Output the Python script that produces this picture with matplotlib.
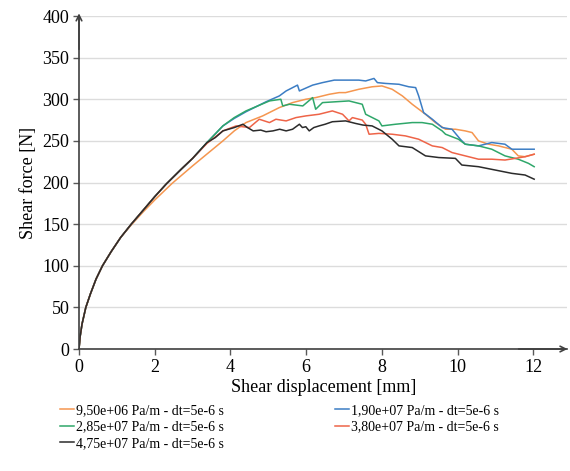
import matplotlib
matplotlib.use("Agg")
import matplotlib.pyplot as plt

plt.rcParams['font.family'] = ['Liberation Serif', 'DejaVu Serif']

# ---- data ----
labels = ["9,50e+06 Pa/m - dt=5e-6 s", "1,90e+07 Pa/m - dt=5e-6 s",
          "2,85e+07 Pa/m - dt=5e-6 s", "3,80e+07 Pa/m - dt=5e-6 s",
          "4,75e+07 Pa/m - dt=5e-6 s"]
colors = ["#F5964F", "#3C7DC4", "#2FA76A", "#EE6448", "#2B2B2B"]

base_x = [0, 0.03, 0.08, 0.18, 0.3, 0.45, 0.62, 0.85, 1.1, 1.38, 1.7, 2.0, 2.3, 2.7, 3.0]
base_y = [0, 15, 30, 50, 66, 84, 100, 117, 134, 150, 167, 183, 198, 216, 229]

s1_x = [0, 0.03, 0.08, 0.18, 0.3, 0.45, 0.62, 0.85, 1.1, 1.38, 1.7, 2.0, 2.46, 3.0, 3.4, 3.8,
        4.1, 4.41, 4.85, 5.29, 5.64, 5.99,
        6.25, 6.61, 6.87, 7.04, 7.39, 7.74, 8.0, 8.27, 8.54, 8.8, 9.15, 9.41, 9.68, 9.94,
        10.2, 10.38, 10.55, 10.82, 11.08, 11.43, 11.6, 11.78, 12.02]
s1_y = [0, 15, 30, 50, 66, 84, 100, 117, 134, 149, 165, 179, 199, 220, 235, 250,
        262, 272, 280, 290, 296, 300,
        302, 306, 308, 308, 312, 315, 316, 312, 304, 294, 282, 272, 264, 264,
        262, 260, 250, 246, 244, 240, 232, 231, 234]

s2_x = base_x + [3.38, 3.8, 4.1, 4.41, 4.94, 5.29, 5.47, 5.77, 5.82, 6.17, 6.43, 6.74, 7.04,
                 7.39, 7.57, 7.79, 7.88, 8.1, 8.45, 8.71, 8.89, 8.97, 9.1, 9.33, 9.59,
                 9.85, 10.07, 10.2, 10.55, 10.9, 11.25, 11.43, 11.69, 12.02]
s2_y = base_y + [248, 268, 277, 285, 297, 304, 310, 317, 310, 317, 320, 323, 323,
                 323, 322, 325, 320, 319, 318, 315, 314, 304, 284, 276, 266,
                 264, 252, 246, 244, 248, 246, 240, 240, 240]

s3_x = base_x + [3.38, 3.8, 4.1, 4.41, 5.03, 5.33, 5.38, 5.56, 5.91, 6.17, 6.25, 6.43, 6.78,
                 7.13, 7.48, 7.57, 7.92, 8.0, 8.36, 8.8, 9.06, 9.33, 9.59, 9.68, 10.02,
                 10.2, 10.55, 10.9, 11.25, 11.6, 11.87, 12.02]
s3_y = base_y + [248, 268, 278, 286, 298, 300, 292, 294, 292, 302, 288, 296, 297,
                 298, 294, 282, 274, 268, 270, 272, 272, 270, 262, 258, 252,
                 246, 244, 240, 232, 228, 223, 219]

s4_x = base_x + [3.38, 3.8, 4.15, 4.5, 4.76, 5.03, 5.2, 5.47, 5.73, 5.99, 6.34, 6.69,
                 6.96, 7.13, 7.22, 7.48, 7.57, 7.66, 7.92, 8.27, 8.62, 8.97, 9.33, 9.59,
                 9.85, 10.2, 10.55, 10.9, 11.25, 11.52, 11.78, 12.02]
s4_y = base_y + [247, 262, 268, 266, 276, 272, 276, 274, 278, 280, 282, 286,
                 282, 274, 278, 275, 270, 258, 259, 258, 256, 252, 244, 242,
                 236, 232, 228, 228, 227, 229, 231, 234]

s5_x = base_x + [3.38, 3.6, 3.8, 4.1, 4.33, 4.45, 4.6, 4.8, 4.94, 5.12, 5.3, 5.47, 5.64, 5.82,
                 5.9, 5.99, 6.08, 6.2, 6.34, 6.5, 6.69, 7.04, 7.3, 7.5, 7.74, 8.0, 8.27,
                 8.45, 8.8, 9.15, 9.5, 9.94, 10.11, 10.55, 10.99, 11.43, 11.78, 12.02]
s5_y = base_y + [248, 254, 262, 266, 270, 266, 262, 263, 261, 262, 264, 262, 264, 270,
                 266, 267, 262, 266, 268, 270, 273, 274, 271, 269, 268, 262, 252,
                 244, 242, 232, 230, 229, 221, 219, 215, 211, 209, 204]

xs = [s1_x, s2_x, s3_x, s4_x, s5_x]
ys = [s1_y, s2_y, s3_y, s4_y, s5_y]

x_ticks = [0, 2, 4, 6, 8, 10, 12]
y_ticks = [0, 50, 100, 150, 200, 250, 300, 350, 400]

# ---- figure ----
fig = plt.figure(figsize=(5.7, 4.71), dpi=100)
ax = fig.add_axes([0.1386, 0.259, 0.857, 0.707])

lines = []
for x, y, c, lab in zip(xs, ys, colors, labels):
    ln, = ax.plot(x, y, color=c, lw=1.1, label=lab)
    lines.append(ln)

ax.set_xlim(0, 12.9)
ax.set_ylim(0, 400)
ax.set_xticks(x_ticks)
ax.set_yticks(y_ticks)
ax.tick_params(labelsize=13, direction='out', length=4, width=1, color='#595959', pad=3)
ax.yaxis.grid(True, color='#DCDCDC', lw=1)
ax.set_axisbelow(True)
for s in ['top', 'right']:
    ax.spines[s].set_visible(False)
for s in ['left', 'bottom']:
    ax.spines[s].set_color('#404040')
    ax.spines[s].set_linewidth(1.2)

ax.annotate('', xy=(1.0, 0), xytext=(0.9, 0), xycoords='axes fraction',
            arrowprops=dict(arrowstyle='->', color='#404040', lw=1.2, shrinkA=0, shrinkB=0))
ax.annotate('', xy=(0, 1.008), xytext=(0, 0.9), xycoords='axes fraction',
            arrowprops=dict(arrowstyle='->', color='#404040', lw=1.2, shrinkA=0, shrinkB=0))

ax.set_xlabel('Shear displacement [mm]', fontsize=13, labelpad=2)
ax.set_ylabel('Shear force [N]', fontsize=13, labelpad=4)

order = [0, 2, 4, 1, 3]
fig.legend([lines[i] for i in order], [labels[i] for i in order],
           loc='upper left', bbox_to_anchor=(0.105, 0.142), ncol=2, frameon=False,
           fontsize=10, handlelength=1.0, handletextpad=0.15, labelspacing=0.25,
           columnspacing=8.0, borderpad=0, borderaxespad=0)

fig.savefig('out.png', dpi=100)
